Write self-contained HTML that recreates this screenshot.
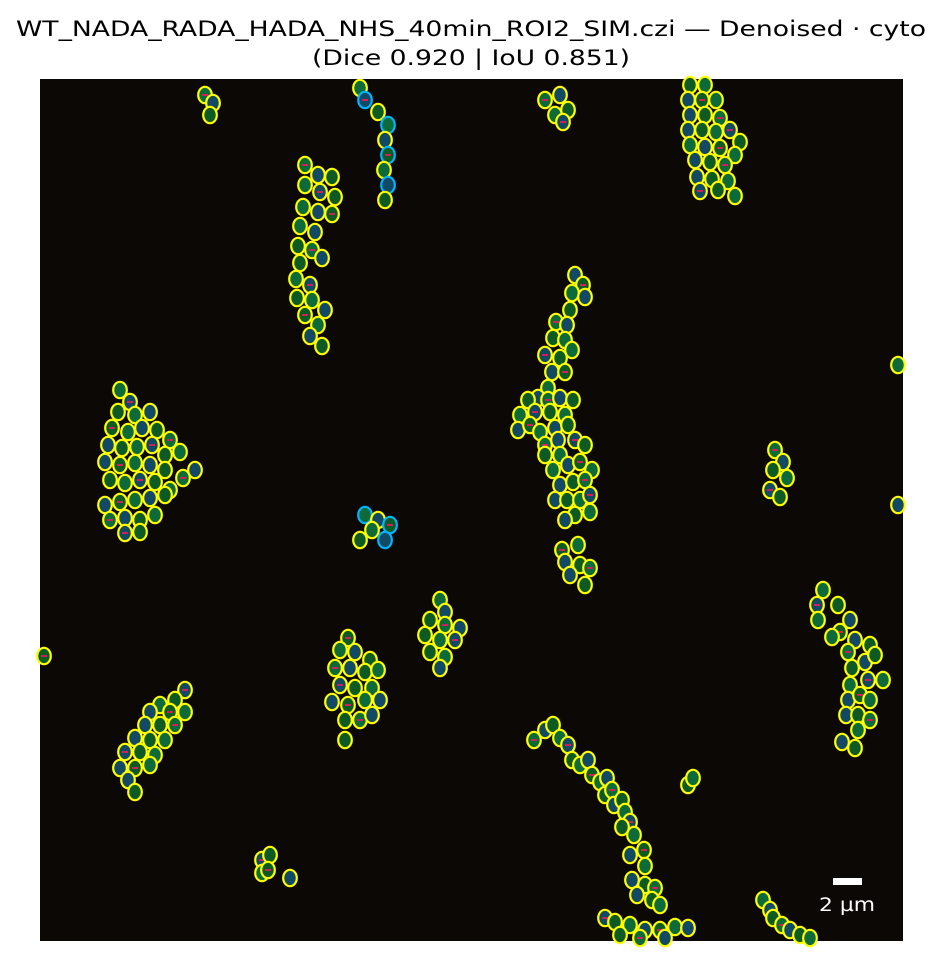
<!DOCTYPE html>
<html><head><meta charset="utf-8"><style>
body{margin:0;background:#fff;width:943px;height:957px;overflow:hidden;font-family:"DejaVu Sans","Liberation Sans",sans-serif}
svg{display:block}
</style></head><body>
<svg width="943" height="957">
<text x="471" y="36" text-anchor="middle" font-size="21" textLength="910" lengthAdjust="spacingAndGlyphs" fill="#000">WT_NADA_RADA_HADA_NHS_40min_ROI2_SIM.czi — Denoised · cyto</text>
<text x="471" y="65" text-anchor="middle" font-size="21" textLength="318" lengthAdjust="spacingAndGlyphs" fill="#000">(Dice 0.920 | IoU 0.851)</text>
<rect x="40" y="79" width="863" height="862" fill="#0b0805"/>
<g id="cells"></g>
<rect x="833" y="878" width="29" height="7" fill="#fff"/>
<text x="847" y="911" text-anchor="middle" font-size="19" textLength="56" lengthAdjust="spacingAndGlyphs" fill="#fff">2 µm</text>
</svg>
<script>
const clusterA=[205,95,213,103,210,115];
const clusterB=[360,88,365,100,378,112,388,125,385,140,388,155,384,170,388,185,385,200];
const clusterC=[305,165,318,175,332,177,305,185,320,192,335,197,303,207,318,212,332,214,300,226,315,232,298,246,312,250,322,258,300,263,296,279,310,285,297,298,312,300,325,310,305,315,318,325,310,336,322,346];
const clusterD=[545,100,560,95,568,110,555,115,563,122];
const clusterE=[690,85,705,85,688,100,702,100,716,100,690,115,705,115,720,118,688,130,702,130,716,132,730,130,740,142,690,145,705,147,720,148,735,155,695,160,710,162,725,165,697,177,712,179,728,181,700,191,718,190,735,196];
const clusterF=[575,275,583,285,572,293,585,297,570,310,556,322,567,325,553,338,565,340,545,355,560,358,572,350,552,372,565,372,548,388,538,398,528,400,548,400,560,398,573,400,520,415,535,412,550,412,565,415,518,430,530,425,540,432,555,428,568,425,545,445,558,440,545,455,560,455,575,440,585,445,553,470,568,465,580,462,592,470,560,485,573,482,585,480,555,500,567,500,580,500,590,495,575,515,590,512,565,520,562,550,578,545,565,562,580,565,590,568,570,575,585,585];
const clusterG=[120,390,130,402,118,412,135,415,150,412,112,428,128,432,142,428,157,430,170,440,108,445,122,448,137,447,152,445,165,455,180,452,105,462,120,465,135,463,150,465,165,470,183,478,195,470,110,480,125,483,140,480,155,482,170,490,105,505,120,502,135,500,150,498,165,495,110,520,125,518,140,520,155,515,125,533,140,532];
const clusterH=[365,515,378,520,390,525,372,530,385,540,360,540];
const clusterI=[775,450,783,462,773,470,787,478,770,490,780,497];
const clusterJ=[898,365,898,505,44,656];
const clusterK=[440,600,445,612,430,620,445,625,460,628,425,635,440,640,455,640,430,652,445,657,440,668];
const clusterL=[348,638,340,650,355,652,370,660,335,668,350,668,365,672,378,670,340,685,355,688,372,688,332,702,348,705,365,700,380,700,345,720,360,720,372,715,345,740];
const clusterM=[823,590,817,605,838,605,818,620,850,620,840,632,832,637,855,640,870,645,848,652,865,662,875,655,883,680,868,680,852,668,850,685,848,700,860,695,870,700,846,715,858,715,870,720,842,742,855,748,858,730];
const clusterN=[185,690,175,700,160,705,150,712,170,712,185,712,145,725,160,725,175,725,135,738,150,740,165,740,125,752,140,752,155,755,120,768,135,768,150,765,128,780,135,792];
const clusterO=[534,740,545,730,553,725,560,738,568,745,572,760,580,765,588,760,592,775,600,782,607,778,605,795,612,790,614,805,622,800,625,812,630,822,622,827,634,835,630,855,644,850,645,866,632,880,645,885,655,888,637,895,652,900,660,905,605,918,615,922,630,925,645,930,660,930,675,927,688,928,620,935,640,938,665,938,688,785,693,778];
const clusterP=[262,860,270,855,262,873,290,878,268,870];
const clusterQ=[763,900,770,910,773,918,782,925,790,930,800,935,810,938];
const clusters=[clusterA,clusterB,clusterC,clusterD,clusterE,clusterF,clusterG,clusterH,clusterI,clusterJ,clusterK,clusterL,clusterM,clusterN,clusterO,clusterP,clusterQ];
const NS='http://www.w3.org/2000/svg';
const g=document.getElementById('cells');
let n=0;
clusters.forEach((c,ci)=>{
  for(let i=0;i<c.length;i+=2){
    const x=c[i],y=c[i+1];
    const e=document.createElementNS(NS,'ellipse');
    
    
    e.setAttribute('cx',x);e.setAttribute('cy',y);
    e.setAttribute('rx',6.8);e.setAttribute('ry',8.2);
    e.setAttribute('fill',n%3==0?'#0d6a3a':(n%3==1?'#124a66':'#0e5a24'));
    const cyan=(ci==7||ci==1)&&n%2==0;
    e.setAttribute('stroke',cyan?'#00b4ff':'#ffff00');
    e.setAttribute('stroke-width',2.2);
    g.appendChild(e);
    if(n%4==0){
      const r=document.createElementNS(NS,'rect');
      
      
      r.setAttribute('x',x-3);r.setAttribute('y',y-1);
      r.setAttribute('width',6);r.setAttribute('height',2);
      r.setAttribute('fill','#d0205a');
      g.appendChild(r);
    }
    n++;
  }
});
</script>
</body></html>
